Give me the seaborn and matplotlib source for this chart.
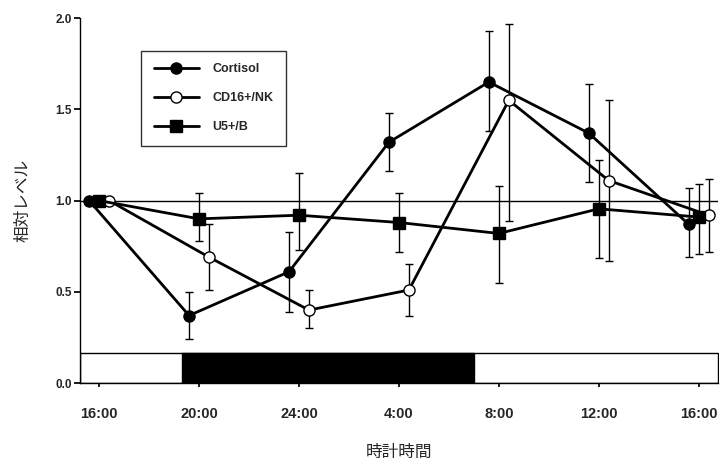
import pandas as pd
import seaborn as sns
import matplotlib.pyplot as plt

#=========================
# DATA
#=========================

# hours after 16:00
hours = [0, 4, 8, 12, 16, 20, 24]
tick_labels = ["16:00", "20:00", "24:00", "4:00", "8:00", "12:00", "16:00"]

cortisol = [1.00, 0.37, 0.61, 1.32, 1.65, 1.37, 0.87]
cortisol_lo = [0, 0.13, 0.22, 0.16, 0.27, 0.27, 0.18]
cortisol_hi = [0, 0.13, 0.22, 0.16, 0.28, 0.27, 0.20]

cd16 = [1.00, 0.69, 0.40, 0.51, 1.55, 1.11, 0.92]
cd16_lo = [0, 0.18, 0.10, 0.14, 0.66, 0.44, 0.20]
cd16_hi = [0, 0.18, 0.11, 0.14, 0.42, 0.44, 0.20]

u5 = [1.00, 0.90, 0.92, 0.88, 0.82, 0.955, 0.91]
u5_lo = [0, 0.12, 0.19, 0.16, 0.27, 0.27, 0.20]
u5_hi = [0, 0.14, 0.23, 0.16, 0.26, 0.27, 0.18]

series = ["Cortisol", "CD16+/NK", "U5+/B"]

# dark period (hours after 16:00): ~19:20 to 7:00
dark_start = 3.33
dark_end = 15.0
bar_height = 0.165

#=========================
# PLOT
#=========================

sns.set_theme(style="ticks")
plt.rcParams["font.family"] = ["Liberation Sans", "Noto Sans CJK JP", "DejaVu Sans"]

df = pd.concat([
    pd.DataFrame({"hour": [h - 0.4 for h in hours], "value": cortisol, "lo": cortisol_lo, "hi": cortisol_hi, "series": "Cortisol"}),
    pd.DataFrame({"hour": [h + 0.4 for h in hours], "value": cd16, "lo": cd16_lo, "hi": cd16_hi, "series": "CD16+/NK"}),
    pd.DataFrame({"hour": hours, "value": u5, "lo": u5_lo, "hi": u5_hi, "series": "U5+/B"}),
])

fig = plt.figure(figsize=(7.22, 4.66), dpi=100)
ax = fig.add_axes([0.111, 0.178, 0.883, 0.783])

xmin, xmax = -0.76, 24.76

# light/dark bar
ax.broken_barh([(xmin, xmax - xmin)], (0, bar_height), facecolors="white", edgecolors="black", linewidth=1, zorder=1)
ax.broken_barh([(dark_start, dark_end - dark_start)], (0, bar_height), facecolors="black", edgecolors="black", zorder=2)

# reference line
ax.axhline(1.0, color="black", lw=1, zorder=1)

# error bars (skip first point)
for name in series:
    d = df[(df["series"] == name) & (df["hi"] > 0)]
    ax.errorbar(d["hour"], d["value"], yerr=[d["lo"], d["hi"]], fmt="none", ecolor="black",
                elinewidth=1, capsize=3, capthick=1, zorder=3)

sns.lineplot(data=df, x="hour", y="value", hue="series", style="series",
             palette=["black"] * 3, markers={"Cortisol": "o", "CD16+/NK": "o", "U5+/B": "s"},
             dashes=False, linewidth=2, markersize=8, ax=ax, zorder=4, legend=False, sort=False)

# open circles for CD16
lines = ax.get_lines()
for ln in lines[-3:]:
    ln.set_markeredgecolor("black")
    ln.set_markeredgewidth(1)
lines[-2].set_markerfacecolor("white")

ax.set_xlim(xmin, xmax)
ax.set_ylim(0, 2.0)
ax.set_xticks(hours)
ax.set_xticklabels(tick_labels, fontsize=10.5, fontweight="bold")
ax.set_yticks([0, 0.5, 1.0, 1.5, 2.0])
ax.set_yticklabels(["0.0", "0.5", "1.0", "1.5", "2.0"], fontsize=8.5, fontweight="bold")
ax.tick_params(axis="x", length=3, pad=14, color="black")
ax.tick_params(axis="y", length=4, pad=2, color="black")
sns.despine(ax=ax)
for s in ["left", "bottom"]:
    ax.spines[s].set_color("black")
    ax.spines[s].set_linewidth(1)

ax.set_xlabel("時計時間", fontsize=12, family=["Noto Sans CJK JP"], labelpad=17)
ax.set_ylabel("相対レベル", fontsize=12, family=["Noto Sans CJK JP"], labelpad=17)

# legend
handles = [
    plt.Line2D([], [], color="black", lw=2, marker="o", markersize=8, markerfacecolor="black", markeredgecolor="black"),
    plt.Line2D([], [], color="black", lw=2, marker="o", markersize=8, markerfacecolor="white", markeredgecolor="black"),
    plt.Line2D([], [], color="black", lw=2, marker="s", markersize=8, markerfacecolor="black", markeredgecolor="black"),
]
leg = fig.legend(handles, series, loc="upper left", bbox_to_anchor=(141 / 722, 1 - 51 / 466),
                 borderaxespad=0, frameon=True, fancybox=False, edgecolor="black",
                 prop={"weight": "bold", "size": 9}, handlelength=3.6, labelspacing=1.35,
                 borderpad=1.0, handletextpad=1.1)
leg.get_frame().set_linewidth(1)

fig.savefig("out.png", dpi=100)
